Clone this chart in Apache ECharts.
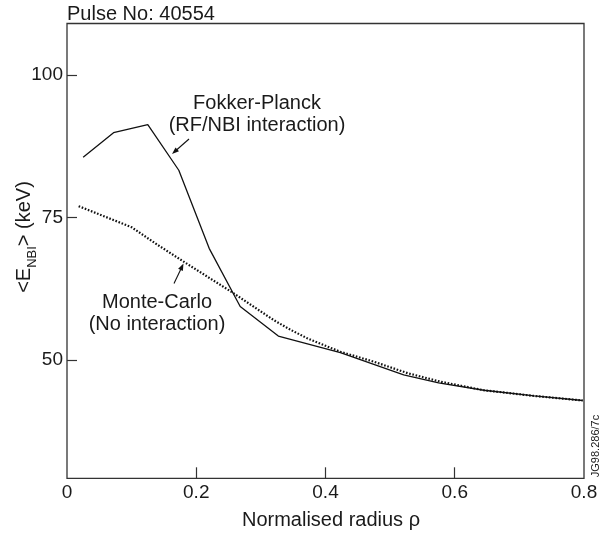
<!DOCTYPE html>
<html>
<head>
<meta charset="utf-8">
<script src="https://cdn.jsdelivr.net/npm/echarts@6/dist/echarts.min.js"></script>
<style>
html,body{margin:0;padding:0;background:#fff;}
#chart{width:607px;height:535px;}
</style>
</head>
<body>
<div id="chart"></div>
<script>
// ---- data ----
const rhoFP = [0.025, 0.072, 0.125, 0.173, 0.22, 0.268, 0.327, 0.423, 0.521, 0.575, 0.645, 0.723, 0.798];
const eFP   = [85.6, 89.9, 91.3, 83.3, 69.6, 59.4, 54.2, 51.3, 47.4, 46.0, 44.7, 43.7, 42.9];
const rhoMC = [0.018, 0.1, 0.139, 0.18, 0.258, 0.32, 0.346, 0.372, 0.423, 0.475, 0.527, 0.578, 0.645, 0.723, 0.798];
const eMC   = [77.0, 73.3, 70.3, 67.3, 61.7, 57.0, 55.3, 53.8, 51.45, 49.7, 47.7, 46.2, 44.7, 43.7, 42.9];
const xTicks = [0.2, 0.4, 0.6];
const xLabels = [0, 0.2, 0.4, 0.6, 0.8];
const yTicks = [50, 75, 100];

const FONT = '"Liberation Sans", Arial, sans-serif';
const TXT = '#1a1a1a';

const chart = echarts.init(document.getElementById('chart'), null, {renderer: 'canvas'});

function arrow(x1, y1, x2, y2) {
  const dx = x2 - x1, dy = y2 - y1, L = Math.hypot(dx, dy);
  const ux = dx / L, uy = dy / L, nx = -uy, ny = ux;
  const hl = 7, hw = 2.6;
  const bx = x2 - ux * hl, by = y2 - uy * hl;
  return [
    {type: 'line', shape: {x1: x1, y1: y1, x2: bx + ux * 1, y2: by + uy * 1}, style: {stroke: '#111', lineWidth: 1.1}},
    {type: 'polygon', shape: {points: [[x2, y2], [bx + nx * hw, by + ny * hw], [bx - nx * hw, by - ny * hw]]}, style: {fill: '#111'}}
  ];
}

const option = {
  animation: false,
  backgroundColor: '#fff',
  grid: {left: 67, right: 23, top: 23.5, bottom: 56.7, show: true, borderColor: '#333', borderWidth: 1.3, backgroundColor: 'transparent'},
  xAxis: {
    type: 'value', min: 0, max: 0.8,
    axisLine: {show: false},
    splitLine: {show: false},
    axisTick: {show: true, inside: true, length: 11, customValues: xTicks, lineStyle: {color: '#333', width: 1.2}},
    axisLabel: {customValues: xLabels, color: TXT, fontSize: 19, fontFamily: FONT, margin: 5,
      formatter: v => String(+(+v).toFixed(1))}
  },
  yAxis: {
    type: 'value', min: 29.25, max: 109.05,
    axisLine: {show: false},
    splitLine: {show: false},
    axisTick: {show: true, inside: true, length: 10, customValues: yTicks, lineStyle: {color: '#333', width: 1.2}},
    axisLabel: {customValues: yTicks, color: TXT, fontSize: 19, fontFamily: FONT, margin: 4,
      formatter: v => String(Math.round(v))}
  },
  series: [
    {
      name: 'Fokker-Planck', type: 'line', symbol: 'none',
      data: rhoFP.map((x, i) => [x, eFP[i]]),
      lineStyle: {color: '#111', width: 1.3}
    },
    {
      name: 'Monte-Carlo', type: 'line', symbol: 'none', smooth: false,
      data: rhoMC.map((x, i) => [x, eMC[i]]),
      lineStyle: {color: '#111', width: 2.2, type: [1.6, 1.7], cap: 'butt'}
    }
  ],
  graphic: [
    {type: 'text', left: 67, top: 4, style: {text: 'Pulse No: 40554', font: '20px ' + FONT, fill: TXT}},
    {type: 'text', x: 24, y: 237, rotation: Math.PI / 2,
      style: {text: '<E{sub|NBI}> (keV)', font: '20px ' + FONT, fill: TXT, align: 'center', verticalAlign: 'middle',
        rich: {sub: {fontSize: 13, fontFamily: FONT, fill: TXT, verticalAlign: 'bottom', lineHeight: 30, padding: [0, 0, 0, 0]}}}},
    {type: 'text', x: 331, y: 520, style: {text: 'Normalised radius ρ', font: '20px ' + FONT, fill: TXT, align: 'center', verticalAlign: 'middle'}},
    {type: 'text', x: 257, y: 103, style: {text: 'Fokker-Planck', font: '20px ' + FONT, fill: TXT, align: 'center', verticalAlign: 'middle'}},
    {type: 'text', x: 257, y: 125, style: {text: '(RF/NBI interaction)', font: '20px ' + FONT, fill: TXT, align: 'center', verticalAlign: 'middle'}},
    {type: 'text', x: 157, y: 302, style: {text: 'Monte-Carlo', font: '20px ' + FONT, fill: TXT, align: 'center', verticalAlign: 'middle'}},
    {type: 'text', x: 157, y: 324, style: {text: '(No interaction)', font: '20px ' + FONT, fill: TXT, align: 'center', verticalAlign: 'middle'}},
    {type: 'text', x: 596, y: 446, rotation: Math.PI / 2, style: {text: 'JG98.286/7c', font: '11px ' + FONT, fill: TXT, align: 'center', verticalAlign: 'middle'}}
  ].concat(arrow(189, 139, 172, 154)).concat(arrow(174, 283.5, 183.5, 263.5))
};
chart.setOption(option);
</script>
</body>
</html>
